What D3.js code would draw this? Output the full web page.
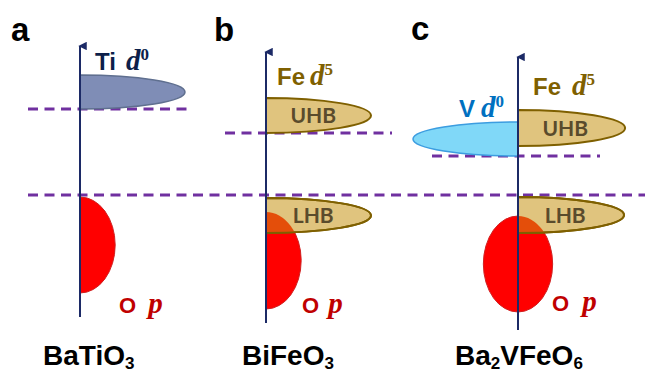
<!DOCTYPE html>
<html>
<head>
<meta charset="utf-8">
<script src="https://cdn.jsdelivr.net/npm/d3@7/dist/d3.min.js"></script>
<style>
  html, body { margin: 0; padding: 0; background: #fff; }
  svg { display: block; }
</style>
</head>
<body>
<div id="chart"></div>
<script>
// Schematic band diagrams: BaTiO3, BiFeO3, Ba2VFeO6
// Energy in arbitrary units (valence-band top at 0), DOS extent in arbitrary units.

const panels    = ["a", "b", "c"];
const compounds = ["BaTiO3", "BiFeO3", "Ba2VFeO6"];

// bands
const bandPanel  = ["a",     "a",   "b",   "b",   "b",   "c",     "c",   "c",   "c"];
const bandKind   = ["Ti",    "Op",  "UHB", "LHB", "Op",  "V",     "UHB", "LHB", "Op"];
const bandTop    = [6.0,     -0.1,  4.85,  -0.15, -0.85, 3.65,    4.25,  -0.1,  -1.05];
const bandBottom = [4.3,     -4.9,  3.1,   -1.9,  -5.7,  1.95,    2.45,  -1.9,  -5.85];
const bandDos    = [10.0,    3.35,  10.0,  10.0,  3.35,  10.0,    10.2,  10.1,  3.3];
const bandSide   = ["right", "right","right","right","right","left","right","right","both"];

// conduction-band edges (dashed) per panel, and the common valence-band edge
const cbEdge = [4.3, 3.1, 1.95];
const vbEdge = 0;

const W = 645, H = 373;
const svg = d3.select("#chart").append("svg").attr("width", W).attr("height", H);

const y = d3.scaleLinear().domain([-6, 6]).range([315, 75]);
const axisX = { a: 80, b: 266, c: 518 };
const xOf = p => d3.scaleLinear().domain([-10, 10]).range([axisX[p] - 105, axisX[p] + 105]);

const style = {
  Ti:  { fill: "#7f8db6", stroke: "#5f6f8f", sw: 1.5 },
  V:   { fill: "#80d8f8", stroke: "#3c9de0", sw: 1.5 },
  UHB: { fill: "#e0c47e", stroke: "#7f6000", sw: 2 },
  LHB: { fill: "#e0c47e", stroke: "#7f6000", sw: 2 },
  Op:  { fill: "#ff0000", stroke: "#d02020", sw: 1 }
};

function bandPath(i) {
  const x = xOf(bandPanel[i]);
  const x0 = x(0);
  const yt = y(bandTop[i]), yb = y(bandBottom[i]);
  const ry = (yb - yt) / 2;
  const rx = x(bandDos[i]) - x0;
  const side = bandSide[i];
  if (side === "right") return `M${x0},${yt} A${rx},${ry} 0 0 1 ${x0},${yb} Z`;
  if (side === "left")  return `M${x0},${yt} A${rx},${ry} 0 0 0 ${x0},${yb} Z`;
  return `M${x0},${yt} A${rx},${ry} 0 0 1 ${x0},${yb} A${rx},${ry} 0 0 1 ${x0},${yt} Z`;
}

const defs = svg.append("defs");
defs.append("marker").attr("id", "arrow")
  .attr("viewBox", "0 0 10 10").attr("refX", 5).attr("refY", 2)
  .attr("markerWidth", 4.2).attr("markerHeight", 5).attr("markerUnits", "strokeWidth")
  .attr("orient", "auto-start-reverse")
  .append("path").attr("d", "M0,10 L5,0 L10,10 Z").attr("fill", "#1c2a66");

const idx = d3.range(bandKind.length);

// dashed band edges
const dashStyle = sel => sel.attr("stroke", "#7030a0").attr("stroke-width", 3)
  .attr("stroke-dasharray", "10,6.5").attr("fill", "none");
const cbSpan = { a: [-52, 113], b: [-41, 126], c: [-86, 82] };
panels.forEach((p, k) => {
  svg.append("line")
    .attr("x1", axisX[p] + cbSpan[p][0]).attr("x2", axisX[p] + cbSpan[p][1])
    .attr("y1", y(cbEdge[k])).attr("y2", y(cbEdge[k]))
    .call(dashStyle);
});
svg.append("line").attr("x1", 28).attr("x2", W).attr("y1", y(vbEdge)).attr("y2", y(vbEdge)).call(dashStyle);

// bands: O p first, then d bands
const order = idx.filter(i => bandKind[i] === "Op").concat(idx.filter(i => bandKind[i] !== "Op"));
order.forEach(i => {
  const s = style[bandKind[i]];
  svg.append("path").attr("d", bandPath(i))
    .attr("fill", s.fill).attr("stroke", s.stroke).attr("stroke-width", s.sw);
});

// hybridised region where O p overlaps the lower Hubbard band
idx.filter(i => bandKind[i] === "LHB").forEach(i => {
  const p = bandPanel[i];
  const op = idx.find(j => bandPanel[j] === p && bandKind[j] === "Op");
  const cid = "clip-" + p;
  defs.append("clipPath").attr("id", cid).append("path").attr("d", bandPath(i));
  svg.append("path").attr("d", bandPath(op)).attr("clip-path", `url(#${cid})`)
    .attr("fill", "#e44e0a").attr("stroke", "none");
  svg.append("path").attr("d", bandPath(i))
    .attr("fill", "none").attr("stroke", style.LHB.stroke).attr("stroke-width", style.LHB.sw);
});

// energy axes
const axisBottom = { a: 317, b: 323, c: 330 };
const axisTop = { a: 42, b: 48, c: 53 };
panels.forEach(p => {
  svg.append("line")
    .attr("x1", axisX[p]).attr("x2", axisX[p])
    .attr("y1", axisBottom[p]).attr("y2", axisTop[p] + 4)
    .attr("stroke", "#1c2a66").attr("stroke-width", 2)
    .attr("marker-end", "url(#arrow)");
});

const sans = "'Liberation Sans', Arial, sans-serif";
const serif = "'Liberation Serif', 'Times New Roman', serif";

// panel letters
const letterPos = { a: [11, 41], b: [214, 41], c: [411, 40] };
panels.forEach(p => {
  svg.append("text").attr("x", letterPos[p][0]).attr("y", letterPos[p][1])
    .attr("font-family", sans).attr("font-weight", "bold").attr("font-size", 33)
    .attr("fill", "#000").text(p);
});

// orbital labels: element + italic orbital with superscript occupancy
function orbitalLabel(x, yb, elem, orb, sup, color, elemSize, gap) {
  const t = svg.append("text").attr("x", x).attr("y", yb).attr("fill", color)
    .attr("font-weight", "bold");
  t.append("tspan").attr("font-family", sans).attr("font-size", elemSize).text(elem);
  t.append("tspan").attr("dx", gap).attr("font-family", serif).attr("font-style", "italic")
    .attr("font-size", 29).text(orb);
  if (sup) t.append("tspan").attr("dy", -10).attr("font-family", serif)
    .attr("font-size", 17).text(sup);
}
orbitalLabel(95, 70, "Ti", "d", "0", "#0d1f4a", 24, 10);
orbitalLabel(277, 85, "Fe", "d", "5", "#7f6000", 24, 5);
orbitalLabel(533, 95, "Fe", "d", "5", "#7f6000", 24, 11);
orbitalLabel(459, 117, "V", "d", "0", "#0070c0", 24, 6);
orbitalLabel(119, 313, "O", "p", null, "#c00000", 22, 12);
orbitalLabel(302, 313, "O", "p", null, "#c00000", 22, 9);
orbitalLabel(552, 311, "O", "p", null, "#c00000", 22, 13);

// Hubbard band names inside the bands
idx.filter(i => bandKind[i] === "UHB" || bandKind[i] === "LHB").forEach(i => {
  const x = xOf(bandPanel[i]);
  svg.append("text")
    .attr("x", x(4.5)).attr("y", (y(bandTop[i]) + y(bandBottom[i])) / 2 + 7.5)
    .attr("text-anchor", "middle")
    .attr("font-family", "Lato, 'Open Sans', sans-serif").attr("font-weight", "bold")
    .attr("font-size", 21).attr("fill", "#5a4b2c")
    .text(bandKind[i]);
});

// compound formulas with subscripted digits
const formulaPos = { a: 43, b: 242, c: 455 };
panels.forEach((p, k) => {
  const t = svg.append("text").attr("x", formulaPos[p]).attr("y", 365)
    .attr("font-family", sans).attr("font-weight", "bold").attr("font-size", 28).attr("fill", "#000");
  const parts = compounds[k].match(/[A-Za-z]+|\d+/g);
  let sub = false;
  parts.forEach(part => {
    const isNum = /\d/.test(part);
    const ts = t.append("tspan").text(part);
    if (isNum) { ts.attr("font-size", 17).attr("dy", sub ? 0 : 4); sub = true; }
    else { if (sub) ts.attr("dy", -4); sub = false; }
  });
});
</script>
</body>
</html>
